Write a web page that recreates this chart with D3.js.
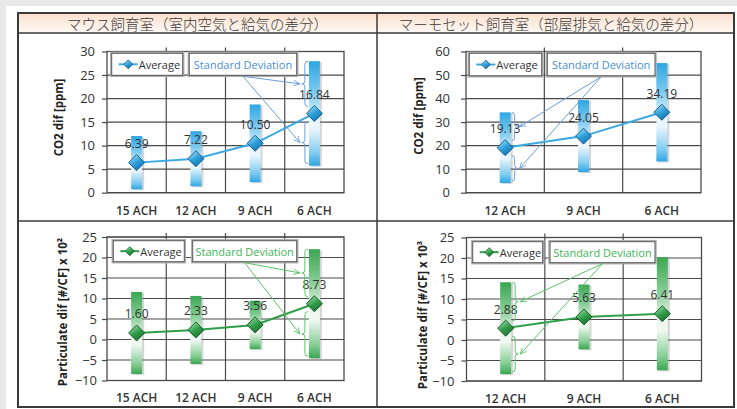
<!DOCTYPE html>
<html><head><meta charset="utf-8">
<script src="https://cdn.jsdelivr.net/npm/d3@7"></script>
<style>body{margin:0;background:#fff;} svg{display:block;}</style>
</head><body>
<svg id="c" width="737" height="409"></svg>
<script>
// ---------- data ----------
const headerTitles = ["マウス飼育室（室内空気と給気の差分）", "マーモセット飼育室（部屋排気と給気の差分）"];
const catsMouse = ["15 ACH", "12 ACH", "9 ACH", "6 ACH"];
const catsMarmoset = ["12 ACH", "9 ACH", "6 ACH"];
const co2MouseAvg = [6.39, 7.22, 10.50, 16.84];
const co2MouseSD = [5.65, 5.85, 8.25, 11.1];
const co2MarmAvg = [19.13, 24.05, 34.19];
const co2MarmSD = [15.0, 15.3, 20.9];
const partMouseAvg = [1.60, 2.33, 3.56, 8.73];
const partMouseSD = [10.0, 8.3, 5.9, 13.3];
const partMarmAvg = [2.88, 5.63, 6.41];
const partMarmSD = [11.2, 7.9, 13.8];
const co2MouseTicks = [0, 5, 10, 15, 20, 25, 30];
const co2MarmTicks = [0, 10, 20, 30, 40, 50, 60];
const partTicks = [-10, -5, 0, 5, 10, 15, 20, 25];
const yTitles = ["CO2 dif [ppm]", "CO2 dif [ppm]", "Particulate dif [#/CF] x 10²", "Particulate dif [#/CF] x 10³"];
const legendLabels = ["Average", "Standard Deviation"];

// ---------- styles ----------
const themes = {
  blue: {barDark:"#2ea6e2", barMid:"#7fcbf1", barLight:"#eaf6fd", line:"#3aa9e1", dia1:"#a6e2fb", dia2:"#2b9dd8", dia3:"#136fae", diaStroke:"#17608f", text:"#4a8fd3", ann:"#6b9fd8"},
  green:{barDark:"#3aa652", barMid:"#86cd94", barLight:"#eef8f0", line:"#2e9e4a", dia1:"#9fe0a9", dia2:"#2f9c48", dia3:"#1a6e30", diaStroke:"#1b5e2c", text:"#40b456", ann:"#5cc46c"}
};
const gridC = "#4a4a4a";
const textC = "#333";

const panels = [
  {cats:catsMouse, avg:co2MouseAvg, sd:co2MouseSD, ticks:co2MouseTicks, title:yTitles[0], theme:"blue",
   x0:107, x1:344, y0:51.5, y1:192.7, tx:58, ty:117.5, gap:12, xpad:14,
   avgBox:[111.7,53.3,71,22], sdBox:[189.3,53.3,107.4,22], braceIdx:3, braceDir:-1},
  {cats:catsMarmoset, avg:co2MarmAvg, sd:co2MarmSD, ticks:co2MarmTicks, title:yTitles[1], theme:"blue",
   x0:466, x1:701, y0:51.5, y1:192.7, tx:418, ty:116, gap:16, xpad:14,
   avgBox:[469.3,53.3,72.4,22.5], sdBox:[547.3,53.3,107.7,22.5], braceIdx:0, braceDir:1},
  {cats:catsMouse, avg:partMouseAvg, sd:partMouseSD, ticks:partTicks, title:yTitles[2], theme:"green",
   x0:107, x1:344, y0:237, y1:380.5, tx:62, ty:312, gap:10, xpad:13,
   avgBox:[113.3,240.7,71,21], sdBox:[192.7,240.7,104,21], braceIdx:3, braceDir:-1},
  {cats:catsMarmoset, avg:partMarmAvg, sd:partMarmSD, ticks:partTicks, title:yTitles[3], theme:"green",
   x0:466.5, x1:701.5, y0:237.5, y1:381, tx:422, ty:315, gap:12, xpad:13,
   avgBox:[472.7,241.7,70,21], sdBox:[550,241.7,105,21], braceIdx:0, braceDir:1}
];

const svg = d3.select("#c");
const defs = svg.append("defs");

// background strips
svg.append("rect").attr("x",0).attr("y",0).attr("width",737).attr("height",409).attr("fill","#fff");
svg.append("rect").attr("x",0).attr("y",0).attr("width",737).attr("height",6).attr("fill","#e8e8e8");
svg.append("rect").attr("x",0).attr("y",0).attr("width",6).attr("height",409).attr("fill","#e8e8e8");

// gradients
const hg = defs.append("linearGradient").attr("id","hdr").attr("x1",0).attr("y1",0).attr("x2",0).attr("y2",1);
hg.append("stop").attr("offset","0").attr("stop-color","#fbdfcc");
hg.append("stop").attr("offset","1").attr("stop-color","#fff9f5");

Object.entries(themes).forEach(([k,t])=>{
  const bg = defs.append("linearGradient").attr("id","bar-"+k).attr("x1",0).attr("y1",0).attr("x2",0).attr("y2",1);
  [[0,t.barDark],[0.3,t.barMid],[0.55,t.barLight],[0.65,t.barLight],[0.88,t.barMid],[1,t.barDark]].forEach(s=>
    bg.append("stop").attr("offset",s[0]).attr("stop-color",s[1]));
  const dg = defs.append("linearGradient").attr("id","dia-"+k).attr("x1",0.2).attr("y1",0).attr("x2",0.8).attr("y2",1);
  [[0,t.dia1],[0.5,t.dia2],[1,t.dia3]].forEach(s=>dg.append("stop").attr("offset",s[0]).attr("stop-color",s[1]));
  defs.append("marker").attr("id","arr-"+k).attr("viewBox","0 0 10 10").attr("refX",9).attr("refY",5)
    .attr("markerWidth",7).attr("markerHeight",7).attr("orient","auto-start-reverse").attr("markerUnits","userSpaceOnUse")
    .append("path").attr("d","M0,1 L9,5 L0,9").attr("fill","none").attr("stroke",t.ann).attr("stroke-width",1.2);
});

// table frame
const T = {l:18, t:13, r:734, b:407, mid:377, hdrB:33, row:221};
svg.append("rect").attr("x",T.l).attr("y",T.t).attr("width",T.r-T.l).attr("height",T.hdrB-T.t).attr("fill","url(#hdr)");
headerTitles.forEach((h,i)=>{
  const cx = i===0 ? 197.5 : 551;
  svg.append("text").attr("x",cx).attr("y",23.5).attr("text-anchor","middle").attr("dominant-baseline","central")
    .attr("font-family","'Noto Sans CJK JP'").attr("font-size",14.5).attr("font-weight",300).attr("fill","#3a3a3a").text(h);
});

const diamond = s => `M0,${-s} L${s},0 L0,${s} L${-s},0 Z`;

panels.forEach((p,pi)=>{
  const t = themes[p.theme];
  const g = svg.append("g");
  const x = d3.scaleBand().domain(p.cats).range([p.x0,p.x1]);
  const y = d3.scaleLinear().domain([p.ticks[0], p.ticks[p.ticks.length-1]]).range([p.y1,p.y0]);
  const cx = d => x(d) + x.bandwidth()/2;

  g.selectAll(null).data(p.ticks).join("line")
    .attr("x1",p.x0).attr("x2",p.x1).attr("y1",d=>y(d)).attr("y2",d=>y(d))
    .attr("stroke",gridC).attr("stroke-width",1.2);
  g.selectAll(null).data(p.cats.slice(1)).join("line")
    .attr("x1",d=>x(d)).attr("x2",d=>x(d)).attr("y1",p.y0-4).attr("y2",p.y1)
    .attr("stroke",gridC).attr("stroke-width",1.2);
  g.append("rect").attr("x",p.x0).attr("y",p.y0).attr("width",p.x1-p.x0).attr("height",p.y1-p.y0)
    .attr("fill","none").attr("stroke",gridC).attr("stroke-width",1.3);

  const ya = d3.axisLeft(y).tickValues(p.ticks).tickSize(5).tickPadding(p.gap-5).tickFormat(d3.format("d"));
  const yg = g.append("g").attr("transform",`translate(${p.x0},0)`).call(ya);
  yg.select(".domain").remove();
  yg.selectAll(".tick line").attr("stroke",gridC).attr("stroke-width",1.2);
  yg.selectAll(".tick text").attr("font-family","'Open Sans'").attr("font-size",13).attr("font-weight",500).attr("fill",textC);

  const xa = d3.axisBottom(x).tickSize(0).tickPadding(p.xpad);
  const xg = g.append("g").attr("transform",`translate(0,${p.y1})`).call(xa);
  xg.select(".domain").remove();
  xg.selectAll(".tick text").attr("font-family","'Open Sans'").attr("font-size",12).attr("font-weight",600).attr("fill",textC);

  g.append("text").attr("transform",`translate(${p.tx},${p.ty}) rotate(-90)`).attr("text-anchor","middle")
    .attr("dominant-baseline","central").attr("font-family","'Open Sans'").attr("font-weight",700)
    .attr("font-size",11.5).attr("fill","#222").text(p.title);

  const bw = 11;
  const rows = p.cats.map((c,i)=>({c, m:p.avg[i], s:p.sd[i]}));
  g.selectAll(null).data(rows).join("rect")
    .attr("x",d=>cx(d.c)-bw/2+2).attr("y",d=>y(d.m+d.s)+1).attr("width",bw).attr("height",d=>y(d.m-d.s)-y(d.m+d.s))
    .attr("fill","#888").attr("opacity",0.35);
  g.selectAll(null).data(rows).join("rect")
    .attr("x",d=>cx(d.c)-bw/2).attr("y",d=>y(d.m+d.s)).attr("width",bw).attr("height",d=>y(d.m-d.s)-y(d.m+d.s))
    .attr("fill",`url(#bar-${p.theme})`);

  g.append("path").datum(rows).attr("d",d3.line().x(d=>cx(d.c)).y(d=>y(d.m)))
    .attr("fill","none").attr("stroke",t.line).attr("stroke-width",2);

  g.selectAll(null).data(rows).join("path")
    .attr("transform",d=>`translate(${cx(d.c)},${y(d.m)})`).attr("d",diamond(8))
    .attr("fill",`url(#dia-${p.theme})`).attr("stroke",t.diaStroke).attr("stroke-width",1);

  g.selectAll(null).data(rows).join("text")
    .attr("x",d=>cx(d.c)).attr("y",d=>y(d.m)-19).attr("text-anchor","middle").attr("dominant-baseline","central")
    .attr("font-family","'Open Sans'").attr("font-size",12).attr("fill",textC).text(d=>d.m.toFixed(2));

  const box = (b)=>{
    g.append("rect").attr("x",b[0]-1).attr("y",b[1]-1).attr("width",b[2]+2).attr("height",b[3]+2)
      .attr("fill","none").attr("stroke","#b0b0b0").attr("stroke-width",1.5);
    g.append("rect").attr("x",b[0]).attr("y",b[1]).attr("width",b[2]).attr("height",b[3])
      .attr("fill","#fff").attr("stroke","#555").attr("stroke-width",1);
  };
  box(p.avgBox); box(p.sdBox);
  const ab = p.avgBox, ly = ab[1]+ab[3]/2;
  g.append("line").attr("x1",ab[0]+7).attr("x2",ab[0]+26).attr("y1",ly).attr("y2",ly).attr("stroke",t.line).attr("stroke-width",2);
  g.append("path").attr("transform",`translate(${ab[0]+16.5},${ly})`).attr("d",diamond(4.5))
    .attr("fill",`url(#dia-${p.theme})`).attr("stroke",t.diaStroke).attr("stroke-width",0.8);
  g.append("text").attr("x",ab[0]+27).attr("y",ly).attr("dominant-baseline","central")
    .attr("font-family","'Open Sans'").attr("font-size",11).attr("fill",textC).text(legendLabels[0]);
  const sb = p.sdBox;
  g.append("text").attr("x",sb[0]+sb[2]/2).attr("y",sb[1]+sb[3]/2).attr("text-anchor","middle").attr("dominant-baseline","central")
    .attr("font-family","'Open Sans'").attr("font-size",11).attr("fill",t.text).text(legendLabels[1]);

  const r = rows[p.braceIdx];
  const dir = p.braceDir;
  const bx = cx(r.c) + dir*(bw/2 + 4);
  const segs = [[y(r.m+r.s), y(r.m)-7], [y(r.m)+8, y(r.m-r.s)-2]];
  const start = [sb[0]+sb[2]/2, sb[1]+sb[3]+1];
  segs.forEach(([a,b])=>{
    const m = (a+b)/2;
    const d = `M${bx-dir*3},${a} Q${bx},${a} ${bx},${a+3} L${bx},${m-3} Q${bx},${m} ${bx+dir*3},${m} Q${bx},${m} ${bx},${m+3} L${bx},${b-3} Q${bx},${b} ${bx-dir*3},${b}`;
    g.append("path").attr("d",d).attr("fill","none").attr("stroke",t.ann).attr("stroke-width",1);
    g.append("line").attr("x1",start[0]).attr("y1",start[1]).attr("x2",bx+dir*5).attr("y2",m)
      .attr("stroke",t.ann).attr("stroke-width",1).attr("marker-end",`url(#arr-${p.theme})`);
  });
});

const tl = svg.append("g").attr("stroke","#3a3a3a").attr("fill","none");
tl.append("rect").attr("x",T.l).attr("y",T.t).attr("width",T.r-T.l).attr("height",T.b-T.t).attr("stroke-width",2);
tl.append("line").attr("x1",T.l).attr("x2",T.r).attr("y1",T.hdrB).attr("y2",T.hdrB).attr("stroke-width",1.5);
tl.append("line").attr("x1",T.l).attr("x2",T.r).attr("y1",T.row).attr("y2",T.row).attr("stroke-width",1.5);
tl.append("line").attr("x1",T.mid).attr("x2",T.mid).attr("y1",T.t).attr("y2",T.b).attr("stroke-width",1.5);
</script>
</body></html>
